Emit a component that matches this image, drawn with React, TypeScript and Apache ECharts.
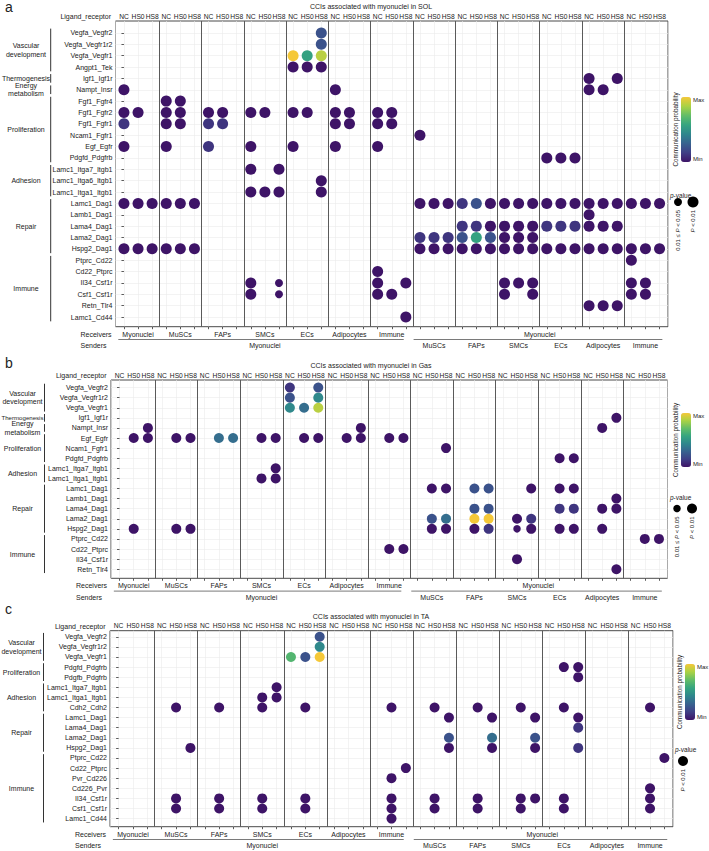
import { useEffect, useRef } from 'react';
import * as echarts from 'echarts';

const FONT = '"Liberation Sans", Arial, Helvetica, sans-serif';
const INK = '#222222';

// Column structure shared by the three panels
const CONDITIONS = ['NC', 'HS0', 'HS8'];
const CELL_TYPES = ['MuSCs', 'FAPs', 'SMCs', 'ECs', 'Adipocytes', 'Immune'];
// left block: Myonuclei are the senders; right block: Myonuclei are the receivers
const RECEIVERS_OUT = ['Myonuclei', ...CELL_TYPES];
const SENDERS_IN = CELL_TYPES;
const MYONUCLEI = 'Myonuclei';

// Colour ramp for the scaled communication probability (0 = Min, 1 = Max)
const PROB_COLORS = ['#3e1467', '#3f3f86', '#38628f', '#2f868d', '#35a480', '#62bd68', '#a9d245', '#f5c838'];

// Dot notation: one string per ligand–receptor row, 13 blocks of NC/HS0/HS8.
// '.' no interaction; '0'–'9' = P < 0.01 with probability level n/9;
// 'a'–'j' = 0.01 ≤ P < 0.05 with probability level (letter index)/9.

// ---- SOL ----
const SOL_PAIRS = [
  'Vegfa_Vegfr2', 'Vegfa_Vegfr1r2', 'Vegfa_Vegfr1', 'Angpt1_Tek', 'Igf1_Igf1r', 'Nampt_Insr',
  'Fgf1_Fgfr4', 'Fgf1_Fgfr2', 'Fgf1_Fgfr1', 'Ncam1_Fgfr1', 'Egf_Egfr', 'Pdgfd_Pdgfrb',
  'Lamc1_Itga7_Itgb1', 'Lamc1_Itga6_Itgb1', 'Lamc1_Itga1_Itgb1', 'Lamc1_Dag1', 'Lamb1_Dag1',
  'Lama4_Dag1', 'Lama2_Dag1', 'Hspg2_Dag1', 'Ptprc_Cd22', 'Cd22_Ptprc', 'Il34_Csf1r',
  'Csf1_Csf1r', 'Retn_Tlr4', 'Lamc1_Cd44',
];
const SOL_CATEGORIES: [string, number, number][] = [
  ['Vascular\ndevelopment', 0, 3],
  ['Thermogenesis', 4, 4],
  ['Energy\nmetabolism', 5, 5],
  ['Proliferation', 6, 11],
  ['Adhesion', 12, 14],
  ['Repair', 15, 19],
  ['Immune', 20, 25],
];
const SOL_DOTS = [
  '... ... ... ... ..2 ... ... ... ... ... ... ... ...',
  '... ... ... ... ..2 ... ... ... ... ... ... ... ...',
  '... ... ... ... 958 ... ... ... ... ... ... ... ...',
  '... ... ... ... 000 ... ... ... ... ... ... ... ...',
  '... ... ... ... ... ... ... ... ... ... ... 0.0 ...',
  '0.. ... ... ... ... 0.. ... ... ... ... ... 00. ...',
  '... 00. ... ... ... ... ... ... ... ... ... ... ...',
  '00. 00. 00. 00. 00. 00. 00. ... ... ... ... ... ...',
  '1.. 00. 11. ... ... 00. 00. ... ... ... ... ... ...',
  '... ... ... ... ... ... ... 0.. ... ... ... ... ...',
  '0.. 0.. 1.. 0.. 0.. 0.. 0.. ... ... ... ... ... ...',
  '... ... ... ... ... ... ... ... ... ... 000 ... ...',
  '... ... ... 0.0 ... ... ... ... ... ... ... ... ...',
  '... ... ... ... ..0 ... ... ... ... ... ... ... ...',
  '... ... ... 000 ..0 ... ... ... ... ... ... ... ...',
  '000 000 ... ... ... ... ... 000 120 000 000 000 000',
  '... ... ... ... ... ... ... ... ... ... ... 0.. ...',
  '... ... ... ... ... ... ... ... 110 000 111 000 ...',
  '... ... ... ... ... ... ... 111 252 000 ... ... ...',
  '000 000 ... ... ... ... ... 000 000 000 000 000 000',
  '... ... ... ... ... ... ... ... ... ... ... ... 0..',
  '... ... ... ... ... ... 0.. ... ... ... ... ... ...',
  '... ... ... 0.a ... ... 0.0 ... ... 000 ... ... 00.',
  '... ... ... 0.a ... ... 00. ... ... 0.0 ... ... 00.',
  '... ... ... ... ... ... ... ... ... ... ... 000 ...',
  '... ... ... ... ... ... ..0 ... ... ... ... ... ...',
];

// ---- Gas ----
const GAS_PAIRS = [
  'Vegfa_Vegfr2', 'Vegfa_Vegfr1r2', 'Vegfa_Vegfr1', 'Igf1_Igf1r', 'Nampt_Insr', 'Egf_Egfr',
  'Ncam1_Fgfr1', 'Pdgfd_Pdgfrb', 'Lamc1_Itga7_Itgb1', 'Lamc1_Itga1_Itgb1', 'Lamc1_Dag1',
  'Lamb1_Dag1', 'Lama4_Dag1', 'Lama2_Dag1', 'Hspg2_Dag1', 'Ptprc_Cd22', 'Cd22_Ptprc',
  'Il34_Csf1r', 'Retn_Tlr4',
];
const GAS_CATEGORIES: [string, number, number][] = [
  ['Vascular\ndevelopment', 0, 2],
  ['Thermogenesis', 3, 3],
  ['Energy\nmetabolism', 4, 4],
  ['Proliferation', 5, 7],
  ['Adhesion', 8, 9],
  ['Repair', 10, 14],
  ['Immune', 15, 18],
];
const GAS_DOTS = [
  '... ... ... ... 1.2 ... ... ... ... ... ... ... ...',
  '... ... ... ... 2.4 ... ... ... ... ... ... ... ...',
  '... ... ... ... 438 ... ... ... ... ... ... ... ...',
  '... ... ... ... ... ... ... ... ... ... ... ..0 ...',
  '..0 ... ... ... ... ..0 ... ... ... ... ... .0. ...',
  '.00 .00 .33 .00 .00 .00 .00 ... ... ... ... ... ...',
  '... ... ... ... ... ... ... ..0 ... ... ... ... ...',
  '... ... ... ... ... ... ... ... ... ... .00 ... ...',
  '... ... ... ..0 ... ... ... ... ... ... ... ... ...',
  '... ... ... .00 ... ... ... ... ... ... ... ... ...',
  '... ... ... ... ... ... ... .00 .22 ..0 .00 ... ...',
  '... ... ... ... ... ... ... ... ... ... ... ..0 ...',
  '... ... ... ... ... ... ... ... .22 ... .11 .00 ...',
  '... ... ... ... ... ... ... .23 .99 .01 ... ... ...',
  '.0. .00 ... ... ... ... ... .00 .01 .a0 .00 .0. ...',
  '... ... ... ... ... ... ... ... ... ... ... ... .00',
  '... ... ... ... ... ... .00 ... ... ... ... ... ...',
  '... ... ... ... ... ... ... ... ... .0. ... ... ...',
  '... ... ... ... ... ... ... ... ... ... ... ..0 ...',
];

// ---- TA ----
const TA_PAIRS = [
  'Vegfa_Vegfr2', 'Vegfa_Vegfr1r2', 'Vegfa_Vegfr1', 'Pdgfd_Pdgfrb', 'Pdgfb_Pdgfrb',
  'Lamc1_Itga7_Itgb1', 'Lamc1_Itga1_Itgb1', 'Cdh2_Cdh2', 'Lamc1_Dag1', 'Lama4_Dag1',
  'Lama2_Dag1', 'Hspg2_Dag1', 'Ptprc_Cd22', 'Cd22_Ptprc', 'Pvr_Cd226', 'Cd226_Pvr',
  'Il34_Csf1r', 'Csf1_Csf1r', 'Lamc1_Cd44',
];
const TA_CATEGORIES: [string, number, number][] = [
  ['Vascular\ndevelopment', 0, 2],
  ['Proliferation', 3, 4],
  ['Adhesion', 5, 7],
  ['Repair', 8, 11],
  ['Immune', 12, 18],
];
const TA_DOTS = [
  '... ... ... ... ..2 ... ... ... ... ... ... ... ...',
  '... ... ... ... ..4 ... ... ... ... ... ... ... ...',
  '... ... ... ... 629 ... ... ... ... ... ... ... ...',
  '... ... ... ... ... ... ... ... ... ... .00 ... ...',
  '... ... ... ... ... ... ... ... ... ... ..0 ... ...',
  '... ... ... ..0 ... ... ... ... ... ... ... ... ...',
  '... ... ... .00 ... ... ... ... ... ... ... ... ...',
  '... .0. .0. .0. .0. ... .0. .0. .0. .0. .0. ... .0.',
  '... ... ... ... ... ... ... ..0 ..0 ..0 ..0 ... ...',
  '... ... ... ... ... ... ... ... ... ... ..1 ... ...',
  '... ... ... ... ... ... ... ..2 ..3 ..2 ... ... ...',
  '... ..0 ... ... ... ... ... ..0 ..0 ..0 ..1 ... ...',
  '... ... ... ... ... ... ... ... ... ... ... ... ..0',
  '... ... ... ... ... ... ..0 ... ... ... ... ... ...',
  '... ... ... ... ... ... .0. ... ... ... ... ... ...',
  '... ... ... ... ... ... ... ... ... ... ... ... .0.',
  '... .0. .0. .0. .0. ... .0. .0. .0. .00 .0. ... .0.',
  '... .0. .0. .0. .0. ... .0. .0. .0. .0. .0. ... .0.',
  '... ... ... ... ... ... .0. ... ... ... ... ... ...',
];

const P_KEYS_TWO = [
  { label: '0.01 \u2264 {i|P} < 0.05', sig: 0 },
  { label: '{i|P} < 0.01', sig: 1 },
];
const P_KEYS_ONE = [{ label: '{i|P} < 0.01', sig: 1 }];

const PANELS = [
  { letter: 'a', title: 'CCIs associated with myonuclei in SOL', pairs: SOL_PAIRS, categories: SOL_CATEGORIES, dots: SOL_DOTS, pKeys: P_KEYS_TWO },
  { letter: 'b', title: 'CCIs associated with myonuclei in Gas', pairs: GAS_PAIRS, categories: GAS_CATEGORIES, dots: GAS_DOTS, pKeys: P_KEYS_TWO },
  { letter: 'c', title: 'CCIs associated with myonuclei in TA', pairs: TA_PAIRS, categories: TA_CATEGORIES, dots: TA_DOTS, pKeys: P_KEYS_ONE },
];

// Page layout (pixels) for each panel
const LAYOUT = [
  {
    left: 115.5, top: 21, right: 668, bottom: 326.7, yMin: -1.05, yMax: 25.85, big: 11, small: 8,
    letterY: 7, titleY: 6.3, bracketX: 50.7, groupX: 26, groupFont: 7, wideFont: 7,
    legend: { titleX: 675, barX: 681, barW: 10, barTop: 97, barH: 65, pX: 670, pTitleY: 195, keyY: 202, keyX: [678, 693] },
  },
  {
    left: 111, top: 380, right: 667.5, bottom: 578.3, yMin: -0.75, yMax: 18.9, big: 10, small: 7.5,
    letterY: 363, titleY: 365, bracketX: 44.5, groupX: 22.5, groupFont: 7, wideFont: 6.1,
    legend: { titleX: 675, barX: 681, barW: 10, barTop: 413, barH: 54, pX: 670, pTitleY: 497, keyY: 508.5, keyX: [677, 692] },
  },
  {
    left: 110, top: 630.7, right: 673, bottom: 826.7, yMin: -0.6, yMax: 18.8, big: 10, small: 7.5,
    letterY: 609, titleY: 616, bracketX: 43.5, groupX: 21.5, groupFont: 7, wideFont: 6.1,
    legend: { titleX: 679, barX: 685, barW: 10, barTop: 664, barH: 56, pX: 675, pTitleY: 749, keyY: 761, keyX: [683] },
  },
];

const COL_COUNT = 39;
const X_MIN = -0.6;
const X_MAX = COL_COUNT - 1 + 0.6;
const COLS = Array.from({ length: COL_COUNT }, (_, i) => i);
const SEPARATORS = Array.from({ length: 12 }, (_, g) => 3 * (g + 1) - 0.5);

function parseDots(rows: string[]) {
  const out: number[][] = [];
  rows.forEach((row, r) => {
    const cells = row.replace(/ /g, '');
    for (let c = 0; c < cells.length; c++) {
      const ch = cells[c];
      if (ch === '.') continue;
      const small = ch >= 'a' && ch <= 'j';
      const level = small ? ch.charCodeAt(0) - 97 : Number(ch);
      out.push([c, r, level / 9, small ? 0 : 1]);
    }
  });
  return out;
}

const isIndex = (v: number, n: number) => Math.abs(v - Math.round(v)) < 1e-6 && v > -0.5 && v < n - 0.5;

function buildOption() {
  const grid: any[] = [];
  const xAxis: any[] = [];
  const yAxis: any[] = [];
  const series: any[] = [];
  const visualMap: any[] = [];

  PANELS.forEach((panel, p) => {
    const L = LAYOUT[p];
    const rows = panel.pairs.map((_, i) => i);
    grid.push({
      left: L.left, top: L.top, width: L.right - L.left, height: L.bottom - L.top,
      show: true, borderColor: '#4a4a4a', borderWidth: 1, backgroundColor: 'transparent',
      containLabel: false, outerBoundsMode: 'none',
    });
    // top axis: condition labels + vertical grid
    xAxis.push({
      type: 'value', gridIndex: p, position: 'top', min: X_MIN, max: X_MAX, minInterval: 1, maxInterval: 1,
      axisLine: { show: false }, axisTick: { show: false },
      axisLabel: {
        show: true, customValues: COLS, margin: 1.5, fontSize: 6.7, fontFamily: FONT, color: INK,
        formatter: (v: number) => (isIndex(v, COL_COUNT) ? CONDITIONS[Math.round(v) % 3] : ''),
      },
      splitLine: { show: true, lineStyle: { color: '#ebebeb', width: 0.6 } },
    });
    // bottom axis: tick marks only
    xAxis.push({
      type: 'value', gridIndex: p, position: 'bottom', min: X_MIN, max: X_MAX, minInterval: 1, maxInterval: 1,
      axisLine: { show: false },
      axisTick: { show: true, customValues: COLS, length: 2.5, lineStyle: { color: '#333', width: 0.8 } },
      axisLabel: { show: false },
      splitLine: { show: false },
    });
    yAxis.push({
      type: 'value', gridIndex: p, inverse: true, min: L.yMin, max: L.yMax, minInterval: 1, maxInterval: 1,
      axisLine: { show: false },
      axisTick: { show: true, customValues: rows, length: 2.5, lineStyle: { color: '#333', width: 0.8 } },
      axisLabel: {
        show: true, customValues: rows, margin: 3, fontSize: 7, fontFamily: FONT, color: INK,
        formatter: (v: number) => (isIndex(v, panel.pairs.length) ? panel.pairs[Math.round(v)] : ''),
      },
      splitLine: { show: true, lineStyle: { color: '#ebebeb', width: 0.6 } },
    });
    series.push({
      type: 'scatter',
      xAxisIndex: 2 * p + 1,
      yAxisIndex: p,
      data: parseDots(panel.dots),
      symbol: 'circle',
      symbolSize: (v: number[]) => (v[3] ? L.big : L.small),
      itemStyle: { opacity: 1 },
      silent: true,
      markLine: {
        silent: true, symbol: 'none', animation: false,
        label: { show: false },
        lineStyle: { color: '#5a5a5a', width: 1, type: 'solid' },
        emphasis: { disabled: true },
        data: SEPARATORS.map((x) => ({ xAxis: x })),
      },
    });
    visualMap.push({
      type: 'continuous', seriesIndex: p, dimension: 2, min: 0, max: 1,
      inRange: { color: PROB_COLORS },
      orient: 'vertical', left: L.legend.barX, top: L.legend.barTop,
      itemWidth: L.legend.barW, itemHeight: L.legend.barH, padding: 0,
      calculable: false, hoverLink: false, show: true,
    });
  });

  return {
    animation: false,
    backgroundColor: '#ffffff',
    textStyle: { fontFamily: FONT },
    grid, xAxis, yAxis, series, visualMap,
  };
}

function buildGraphics(chart: any) {
  const els: any[] = [];
  const text = (t: string, x: number, y: number, size: number, align = 'center', extra: any = {}, rotation = 0) =>
    els.push({
      type: 'text', x, y, rotation, silent: true, z: 10,
      style: { text: t, fontSize: size, fontFamily: FONT, fill: INK, align, verticalAlign: 'middle', ...extra },
    });
  const line = (x1: number, y1: number, x2: number, y2: number, stroke: string, lineWidth = 1) =>
    els.push({ type: 'line', silent: true, z: 10, shape: { x1, y1, x2, y2 }, style: { stroke, lineWidth } });

  PANELS.forEach((panel, p) => {
    const L = LAYOUT[p];
    const toPx = (x: number, y: number) =>
      chart.convertToPixel({ xAxisIndex: 2 * p + 1, yAxisIndex: p }, [x, y]) as number[];
    const colX = (c: number) => toPx(c, 0)[0];
    const rowY = (r: number) => toPx(0, r)[1];
    const left = colX(X_MIN);
    const top = rowY(L.yMin);
    const bottom = rowY(L.yMax);

    // panel letter and title
    text(panel.letter, 5, L.letterY, 14, 'left');
    text(panel.title, 371, L.titleY, 7, 'center');
    text('Ligand_receptor', left - 4.5, top - 4.2, 7, 'right');

    // functional categories with brackets
    panel.categories.forEach(([name, r0, r1]) => {
      line(L.bracketX, rowY(r0 - 0.38), L.bracketX, rowY(r1 + 0.38), '#333', 1);
      const size = name === 'Thermogenesis' ? L.wideFont : L.groupFont;
      text(name, L.groupX, rowY((r0 + r1) / 2), size, 'center', { lineHeight: 8.4 });
    });

    // receiver / sender annotation under the x axis
    const yRec = bottom + 7.5;
    const yLine = bottom + 12.8;
    const ySen = bottom + 19;
    text('Receivers', left - 35, yRec, 7, 'left');
    text('Senders', left - 35, ySen, 7, 'left');
    RECEIVERS_OUT.forEach((name, g) => text(name, colX(3 * g + 1), yRec, 7));
    text(MYONUCLEI, colX(29.5), yRec, 7);
    text(MYONUCLEI, colX(10), ySen, 7);
    SENDERS_IN.forEach((name, k) => text(name, colX(3 * (7 + k) + 1), ySen, 7));
    line(colX(-0.4), yLine, colX(19.85), yLine, '#7a7a7a', 1);
    line(colX(20.55), yLine, colX(38.2), yLine, '#7a7a7a', 1);

    // legend texts and p-value keys
    const lg = L.legend;
    text('Communication probability', lg.titleX, lg.barTop + lg.barH / 2, 6.3, 'center', {}, Math.PI / 2);
    text('Max', lg.barX + lg.barW + 2, lg.barTop + 3, 6, 'left');
    text('Min', lg.barX + lg.barW + 2, lg.barTop + lg.barH - 3, 6, 'left');
    text('{i|p}-value', lg.pX, lg.pTitleY, 6.5, 'left', { rich: { i: { fontStyle: 'italic', fontSize: 6.5, fontFamily: FONT } } });
    panel.pKeys.forEach((key, k) => {
      const size = key.sig ? L.big : L.small;
      els.push({
        type: 'circle', silent: true, z: 10,
        shape: { cx: lg.keyX[k], cy: lg.keyY, r: size / 2 },
        style: { fill: '#000' },
      });
      text(key.label, lg.keyX[k], lg.keyY + 8, 6, 'right', { rich: { i: { fontStyle: 'italic', fontSize: 6, fontFamily: FONT } } }, Math.PI / 2);
    });
  });
  return els;
}

export default function App() {
  const ref = useRef<HTMLDivElement>(null);
  useEffect(() => {
    const el = ref.current;
    if (!el) return;
    const chart = echarts.init(el, null, { renderer: 'svg' });
    chart.setOption(buildOption() as any);
    chart.setOption({ graphic: { elements: buildGraphics(chart) } });
    return () => chart.dispose();
  }, []);
  return (
    <div
      ref={ref}
      style={{ position: 'fixed', left: 0, top: 0, width: 709, height: 851, background: '#ffffff' }}
    />
  );
}
